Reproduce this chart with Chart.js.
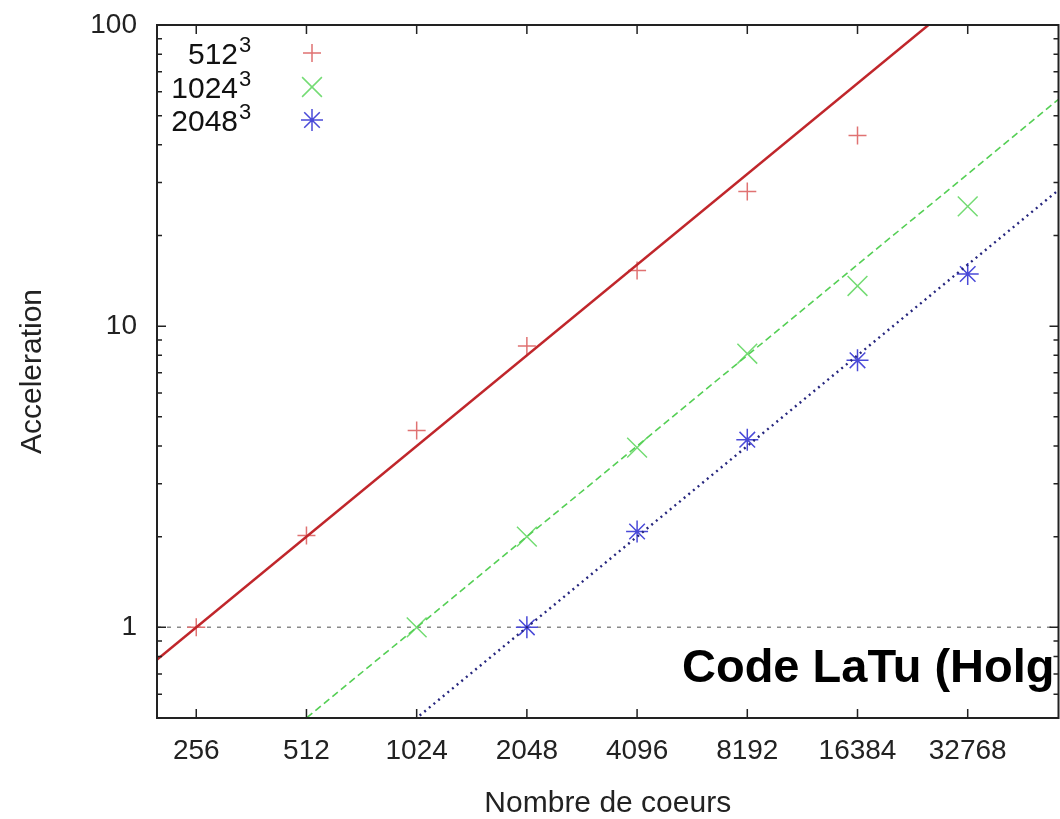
<!DOCTYPE html>
<html>
<head>
<meta charset="utf-8">
<script src="https://cdn.jsdelivr.net/npm/chart.js@4.4.0/dist/chart.umd.min.js"></script>
<style>
  html, body { margin: 0; padding: 0; background: #fff; overflow: hidden; }
  canvas { display: block; }
</style>
</head>
<body>
<canvas id="speedup" width="1074" height="819"></canvas>
<script>
// core counts (x axis, log2)
const cores = [256, 512, 1024, 2048, 4096, 8192, 16384, 32768];

const acc512 = [1, 2.02, 4.5, 8.6, 15.3, 28, 43, null];
const acc1024 = [null, null, 1, 2, 3.95, 8.1, 13.6, 25];
const acc2048 = [null, null, null, 1, 2.08, 4.2, 7.7, 14.9];

// ideal (linear) speedup lines, end points
const idealCores = [128, 65536];
const ideal512 = [0.5, 256];
const ideal1024 = [0.125, 64];
const ideal2048 = [0.0625, 32];

const seriesLabels = ['512', '1024', '2048'];
const yTicks = [1, 10, 100];
const refLevel = 1;
const noteText = 'Code LaTu (Holg';

const FONT = '"Liberation Sans", Arial, Helvetica, sans-serif';
Chart.defaults.font.family = FONT;

function pts(xs, ys) {
    return xs.map((c, i) => ({ x: c, y: ys[i] })).filter(p => p.y !== null);
}

// no automatic label padding: the plot box is placed by hand
const noPadding = () => ({ left: 0, right: 0, top: 0, bottom: 0 });

const markerStyles = [
    { pointStyle: 'cross', radius: 9, color: '#e07272' },
    { pointStyle: 'crossRot', radius: 14, color: '#74dc74' },
    { pointStyle: 'star', radius: 11, color: '#4a4ad8' }
];

// dashed line at acceleration = 1, drawn under the data
const refLine = {
    id: 'refLine',
    beforeDatasetsDraw(chart) {
        const { ctx, chartArea: a, scales: { y } } = chart;
        const py = y.getPixelForValue(refLevel);
        ctx.save();
        ctx.strokeStyle = '#8a8a8a';
        ctx.lineWidth = 1.5;
        ctx.setLineDash([4, 6]);
        ctx.beginPath();
        ctx.moveTo(a.left, py);
        ctx.lineTo(a.right, py);
        ctx.stroke();
        ctx.restore();
    }
};

// gnuplot style frame: box, inward ticks, x labels, legend and the overlay note
const frame = {
    id: 'frame',
    afterDraw(chart) {
        const { ctx, chartArea: a, scales: { x, y } } = chart;
        ctx.save();
        ctx.strokeStyle = '#222';
        ctx.lineWidth = 2;
        ctx.strokeRect(a.left, a.top, a.right - a.left, a.bottom - a.top);

        ctx.beginPath();
        ctx.lineWidth = 1.5;
        cores.forEach(v => {
            const px = x.getPixelForValue(v);
            ctx.moveTo(px, a.bottom); ctx.lineTo(px, a.bottom - 9);
            ctx.moveTo(px, a.top); ctx.lineTo(px, a.top + 9);
        });
        // log minor ticks 2..9 per decade, major at decades
        for (let dec = 0.1; dec <= 100; dec *= 10) {
            for (let m = 1; m < 10; m++) {
                const v = dec * m;
                if (v < y.min - 1e-9 || v > y.max + 1e-9) continue;
                const py = y.getPixelForValue(v);
                const len = m === 1 ? 9 : 5;
                ctx.moveTo(a.left, py); ctx.lineTo(a.left + len, py);
                ctx.moveTo(a.right, py); ctx.lineTo(a.right - len, py);
            }
        }
        ctx.stroke();

        // x tick labels (drawn here so they do not push the plot box)
        ctx.fillStyle = '#222';
        ctx.font = '28px ' + FONT;
        ctx.textAlign = 'center';
        ctx.textBaseline = 'middle';
        cores.forEach(v => ctx.fillText(String(v), x.getPixelForValue(v), a.bottom + 33));

        // legend (top left, inside the plot)
        const rows = [28, 62, 95];
        seriesLabels.forEach((lab, i) => {
            const ry = a.top + rows[i];
            ctx.fillStyle = '#111';
            ctx.font = '30px ' + FONT;
            ctx.textAlign = 'right';
            ctx.textBaseline = 'middle';
            ctx.fillText(lab, a.left + 81, ry + 3);
            ctx.font = '22px ' + FONT;
            ctx.textAlign = 'left';
            ctx.fillText('3', a.left + 82, ry - 7);
            const m = markerStyles[i];
            ctx.strokeStyle = m.color;
            ctx.lineWidth = 1.5;
            Chart.helpers.drawPoint(ctx, { pointStyle: m.pointStyle, radius: m.radius, rotation: 0, borderWidth: 1.5 }, a.left + 155, ry);
        });

        // overlay caption
        ctx.fillStyle = '#000';
        ctx.font = 'bold 47px ' + FONT;
        ctx.textAlign = 'left';
        ctx.textBaseline = 'alphabetic';
        ctx.fillText(noteText, 682, 682);
        ctx.restore();
    }
};

const lineSets = [
    { data: pts(idealCores, ideal512), borderColor: '#c0262b', borderWidth: 2.5, borderDash: [] },
    { data: pts(idealCores, ideal1024), borderColor: '#55cf55', borderWidth: 1.6, borderDash: [7, 4] },
    { data: pts(idealCores, ideal2048), borderColor: '#26267e', borderWidth: 2.4, borderDash: [2, 4] }
].map(d => Object.assign(d, { showLine: true, pointRadius: 0, clip: 0, fill: false }));

const pointSets = [acc512, acc1024, acc2048].map((acc, i) => ({
    label: seriesLabels[i],
    data: pts(cores, acc),
    showLine: false,
    pointStyle: markerStyles[i].pointStyle,
    pointRadius: markerStyles[i].radius,
    pointBorderColor: markerStyles[i].color,
    pointBorderWidth: 1.5,
    borderColor: markerStyles[i].color
}));

new Chart(document.getElementById('speedup'), {
    type: 'scatter',
    data: { datasets: [...lineSets, ...pointSets] },
    options: {
        responsive: false,
        animation: false,
        events: [],
        layout: { padding: { left: 0, right: 1, top: 25, bottom: 0 } },
        plugins: { legend: { display: false }, tooltip: { enabled: false } },
        scales: {
            x: {
                type: 'logarithmic',
                min: 200,
                max: 58000,
                grid: { display: false, drawTicks: false },
                border: { display: false },
                afterBuildTicks: s => { s.ticks = cores.map(v => ({ value: v })); },
                afterFit: s => {
                    s.height = 101;
                    s.paddingLeft = 0; s.paddingRight = 0;
                    s.getPadding = noPadding;
                },
                ticks: { display: false },
                title: {
                    display: true,
                    text: 'Nombre de coeurs',
                    color: '#222',
                    font: { size: 30, lineHeight: 1 },
                    padding: { top: 0, bottom: 0 }
                }
            },
            y: {
                type: 'logarithmic',
                min: 0.5,
                max: 100,
                grid: { display: false, drawTicks: false },
                border: { display: false },
                afterBuildTicks: s => { s.ticks = yTicks.map(v => ({ value: v })); },
                afterFit: s => {
                    s.width = 157;
                    s.paddingTop = 0; s.paddingBottom = 0;
                    s.getPadding = noPadding;
                },
                ticks: {
                    callback: v => String(v),
                    color: '#222',
                    padding: 20,
                    font: { size: 28, lineHeight: 1 }
                },
                title: {
                    display: true,
                    text: 'Acceleration',
                    color: '#222',
                    font: { size: 30, lineHeight: 1 },
                    padding: { top: 18, bottom: 0 }
                }
            }
        }
    },
    plugins: [refLine, frame]
});
</script>
</body>
</html>
